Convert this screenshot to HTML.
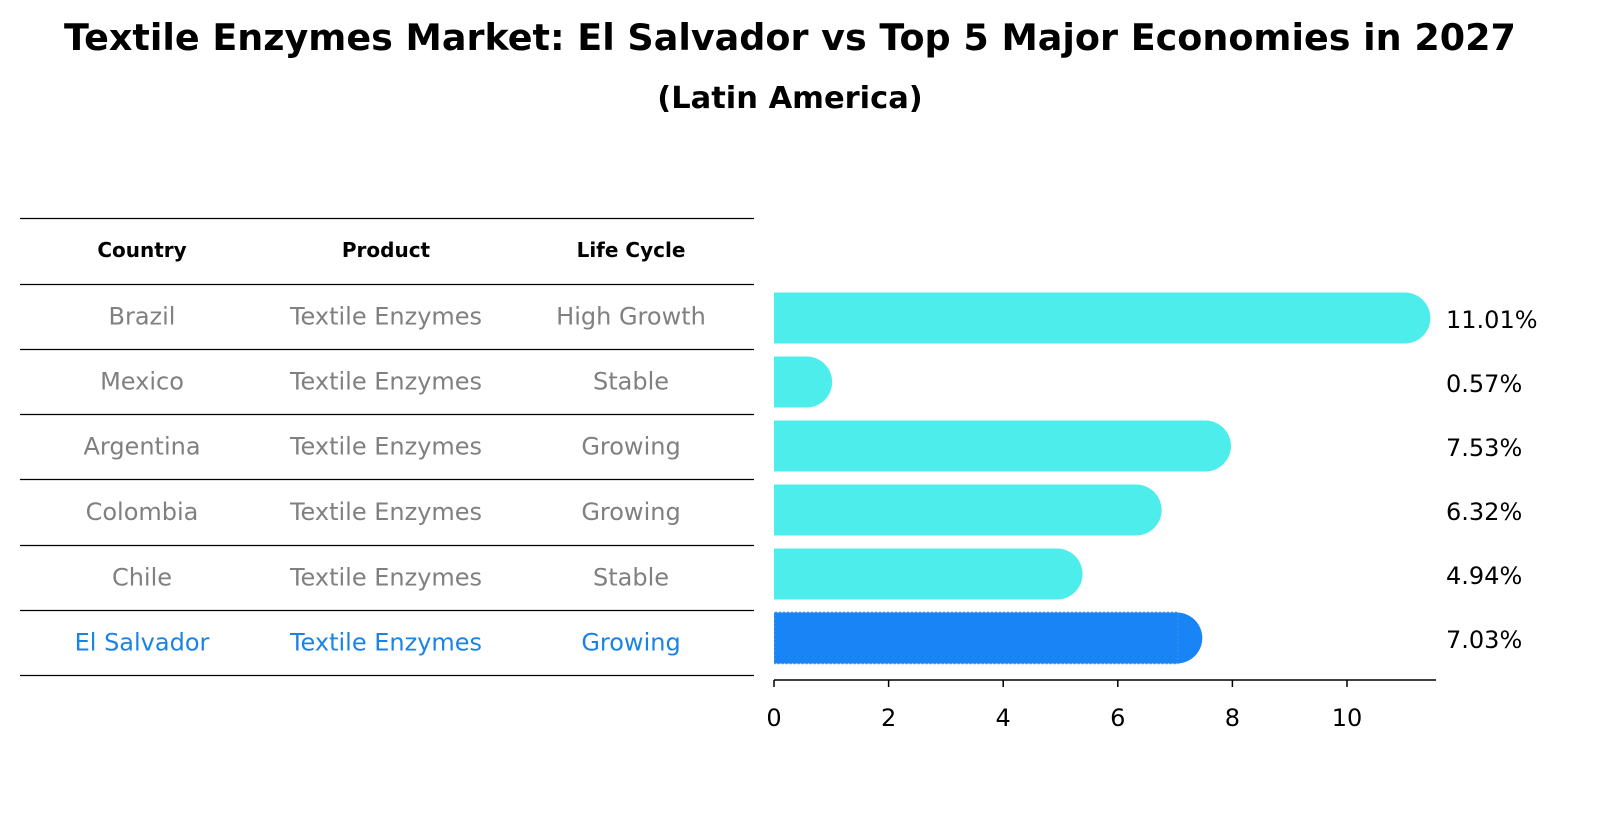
<!DOCTYPE html>
<html><head><meta charset="utf-8"><style>
body{margin:0;background:#fff;font-family:"Liberation Sans","DejaVu Sans",sans-serif;}
svg text{font-family:"DejaVu Sans","Liberation Sans",sans-serif;}
</style></head><body>
<svg id="c" width="1604" height="823" viewBox="0 0 1604 823" xmlns="http://www.w3.org/2000/svg">
<text x="790" y="50" text-anchor="middle" font-size="36.5" font-weight="bold" fill="#000">Textile Enzymes Market: El Salvador vs Top 5 Major Economies in 2027</text>
<text x="790" y="108" text-anchor="middle" font-size="30.5" font-weight="bold" fill="#000">(Latin America)</text>
<g id="tbl"></g>
<g id="bars"></g>
</svg>
<script>
const countries=["Brazil","Mexico","Argentina","Colombia","Chile","El Salvador"];
const products=["Textile Enzymes","Textile Enzymes","Textile Enzymes","Textile Enzymes","Textile Enzymes","Textile Enzymes"];
const lifecycle=["High Growth","Stable","Growing","Growing","Stable","Growing"];
const values=[11.01,0.57,7.53,6.32,4.94,7.03];
const ticks=[0,2,4,6,8,10];
const NS="http://www.w3.org/2000/svg";
function mk(p,t,a){const e=document.createElementNS(NS,t);for(const k in a)e.setAttribute(k,a[k]);p.appendChild(e);return e;}
const tbl=document.getElementById('tbl');
const lineYs=[218,284,349,414,479,545,610,675];
lineYs.forEach((y,i)=>{const l=mk(tbl,'line',{x1:20,x2:754,y1:y+0.5,y2:y+0.5,stroke:'#000','stroke-width':1.2});

});
const colX=[142,386,631];
["Country","Product","Life Cycle"].forEach((h,i)=>{const t=mk(tbl,'text',{x:colX[i],y:257,'text-anchor':'middle','font-size':20,'font-weight':'bold',fill:'#000'});t.textContent=h;

});
countries.forEach((c,r)=>{const y=(lineYs[r+1]+lineYs[r+2])/2+8;const col=r===countries.length-1?'#1a84e6':'#808080';
[c,products[r],lifecycle[r]].forEach((v,i)=>{const t=mk(tbl,'text',{x:colX[i],y:y,'text-anchor':'middle','font-size':24,fill:col});t.textContent=v;

});});
const bars=document.getElementById('bars');
const x0=774,pxu=57.3;const X=v=>x0+v*pxu;
const Y=i=>318+i*64;const bh=51;
values.forEach((v,i)=>{const last=i===values.length-1;const fill=last?'#1884f5':'#4cedea';
const g=mk(bars,'g',{});


const yc=Y(i);
mk(g,'rect',{x:x0,y:yc-bh/2,width:X(v)-x0,height:bh,fill:fill});
mk(g,'circle',{cx:X(v),cy:yc,r:bh/2,fill:fill});
if(last)mk(g,'rect',{x:x0+1,y:yc-bh/2,width:X(v)-x0,height:bh,fill:'none',stroke:'#3a8ce0','stroke-width':1.5,'stroke-dasharray':'2,2'});
const t=mk(bars,'text',{x:1446,y:yc+10,'font-size':24,fill:'#000'});t.textContent=v.toFixed(2)+'%';

});
const ax=mk(bars,'line',{x1:x0,x2:1436,y1:680,y2:680,stroke:'#000','stroke-width':1.5});


ticks.forEach(v=>{const tk=mk(bars,'line',{x1:X(v),x2:X(v),y1:680,y2:687,stroke:'#000','stroke-width':1.5});


const t=mk(bars,'text',{x:X(v),y:726,'text-anchor':'middle','font-size':24,fill:'#000'});t.textContent=v;

});
</script>
</body></html>
